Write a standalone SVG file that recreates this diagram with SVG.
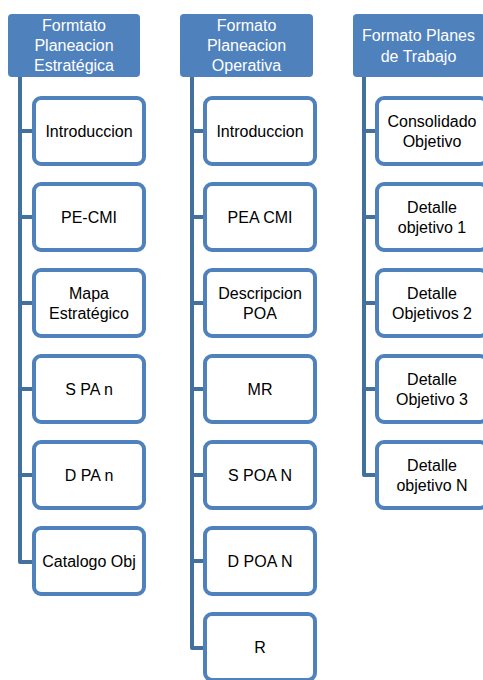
<svg xmlns="http://www.w3.org/2000/svg" width="483" height="680" viewBox="0 0 483 680">
  <style>
    .hdr { fill: #4F81BD; }
    .hdr-t { fill: #FFFFFF; font-family: "Liberation Sans", Arial, sans-serif; font-size: 16px; text-anchor: middle; }
    .box { fill: #FFFFFF; stroke: #4F81BD; stroke-width: 4; }
    .box-t { fill: #000000; font-family: "Liberation Sans", Arial, sans-serif; font-size: 16px; text-anchor: middle; }
    .link { fill: none; stroke: #41719C; stroke-width: 4; stroke-linejoin: round; }
  </style>
  <rect width="483" height="680" fill="#FFFFFF"/>

  <!-- trunk and branch lines -->
  <g id="connectors">
    <path class="link" d="M20 77 V562 H34 M20 131 H34 M20 217 H34 M20 303 H34 M20 389 H34 M20 475 H34"/>
    <path class="link" d="M192 77 V648 H205 M192 131 H205 M192 217 H205 M192 303 H205 M192 389 H205 M192 475 H205 M192 561 H205"/>
    <path class="link" d="M364 77 V475 H377 M364 131 H377 M364 217 H377 M364 303 H377 M364 389 H377"/>
  </g>

  <!-- column 1 -->
  <g id="hdr-estrategica">
    <rect class="hdr" x="8" y="14" width="132" height="63" rx="4"/>
    <text class="hdr-t" x="74" y="31">Formtato</text>
    <text class="hdr-t" x="74" y="51">Planeacion</text>
    <text class="hdr-t" x="74" y="71">Estratégica</text>
  </g>
  <g id="e-introduccion"><rect class="box" x="34" y="98" width="110" height="66" rx="7"/><text class="box-t" x="89" y="137">Introduccion</text></g>
  <g id="e-pecmi"><rect class="box" x="34" y="184" width="110" height="66" rx="7"/><text class="box-t" x="89" y="223">PE-CMI</text></g>
  <g id="e-mapa"><rect class="box" x="34" y="270" width="110" height="66" rx="7"/><text class="box-t" x="89" y="299">Mapa</text><text class="box-t" x="89" y="319">Estratégico</text></g>
  <g id="e-spa"><rect class="box" x="34" y="356" width="110" height="66" rx="7"/><text class="box-t" x="89" y="395">S PA n</text></g>
  <g id="e-dpa"><rect class="box" x="34" y="442" width="110" height="66" rx="7"/><text class="box-t" x="89" y="481">D PA n</text></g>
  <g id="e-catalogo"><rect class="box" x="34" y="528" width="110" height="66" rx="7"/><text class="box-t" x="89" y="567">Catalogo Obj</text></g>

  <!-- column 2 -->
  <g id="hdr-operativa">
    <rect class="hdr" x="180" y="14" width="133" height="63" rx="4"/>
    <text class="hdr-t" x="246.5" y="31">Formato</text>
    <text class="hdr-t" x="246.5" y="51">Planeacion</text>
    <text class="hdr-t" x="246.5" y="71">Operativa</text>
  </g>
  <g id="o-introduccion"><rect class="box" x="205" y="98" width="110" height="66" rx="7"/><text class="box-t" x="260" y="137">Introduccion</text></g>
  <g id="o-peacmi"><rect class="box" x="205" y="184" width="110" height="66" rx="7"/><text class="box-t" x="260" y="223">PEA CMI</text></g>
  <g id="o-descripcion"><rect class="box" x="205" y="270" width="110" height="66" rx="7"/><text class="box-t" x="260" y="299">Descripcion</text><text class="box-t" x="260" y="319">POA</text></g>
  <g id="o-mr"><rect class="box" x="205" y="356" width="110" height="66" rx="7"/><text class="box-t" x="260" y="395">MR</text></g>
  <g id="o-spoa"><rect class="box" x="205" y="442" width="110" height="66" rx="7"/><text class="box-t" x="260" y="481">S POA N</text></g>
  <g id="o-dpoa"><rect class="box" x="205" y="528" width="110" height="66" rx="7"/><text class="box-t" x="260" y="567">D POA N</text></g>
  <g id="o-r"><rect class="box" x="205" y="614" width="110" height="66" rx="7"/><text class="box-t" x="260" y="653">R</text></g>

  <!-- column 3 -->
  <g id="hdr-planes">
    <rect class="hdr" x="353" y="14" width="132" height="63" rx="4"/>
    <text class="hdr-t" x="418.5" y="41">Formato Planes</text>
    <text class="hdr-t" x="418.5" y="62">de Trabajo</text>
  </g>
  <g id="p-consolidado"><rect class="box" x="377" y="98" width="110" height="66" rx="7"/><text class="box-t" x="432" y="127">Consolidado</text><text class="box-t" x="432" y="147">Objetivo</text></g>
  <g id="p-detalle1"><rect class="box" x="377" y="184" width="110" height="66" rx="7"/><text class="box-t" x="432" y="213">Detalle</text><text class="box-t" x="432" y="233">objetivo 1</text></g>
  <g id="p-detalle2"><rect class="box" x="377" y="270" width="110" height="66" rx="7"/><text class="box-t" x="432" y="299">Detalle</text><text class="box-t" x="432" y="319">Objetivos 2</text></g>
  <g id="p-detalle3"><rect class="box" x="377" y="356" width="110" height="66" rx="7"/><text class="box-t" x="432" y="385">Detalle</text><text class="box-t" x="432" y="405">Objetivo 3</text></g>
  <g id="p-detallen"><rect class="box" x="377" y="442" width="110" height="66" rx="7"/><text class="box-t" x="432" y="471">Detalle</text><text class="box-t" x="432" y="491">objetivo N</text></g>
</svg>
